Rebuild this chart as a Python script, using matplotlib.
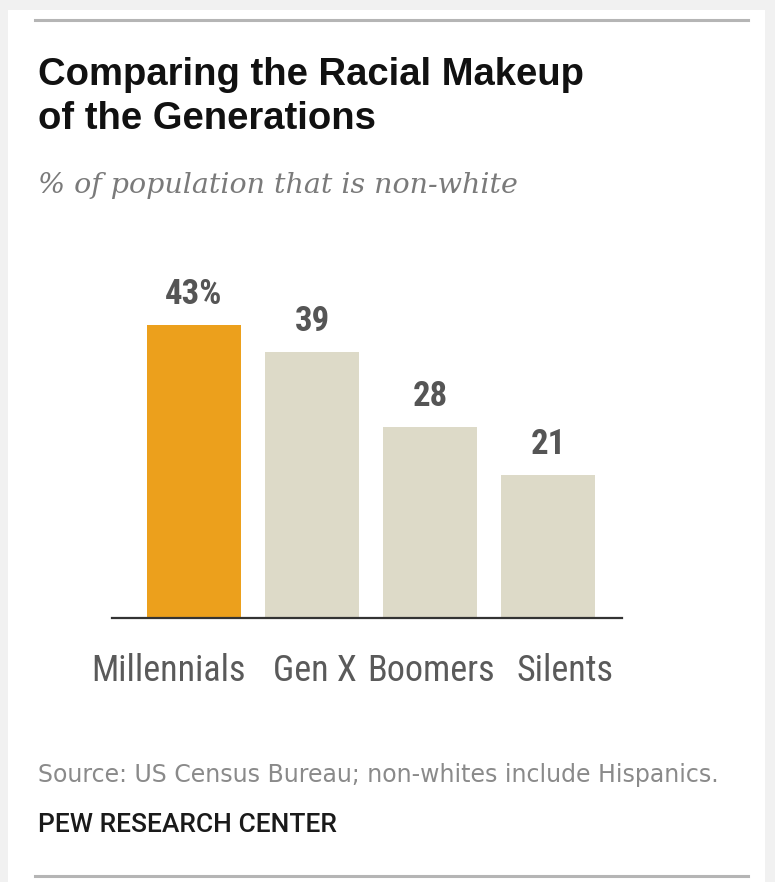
import matplotlib
matplotlib.use("Agg")
import matplotlib.pyplot as plt
from matplotlib import font_manager
from matplotlib.patches import Rectangle
from matplotlib.lines import Line2D
from matplotlib.transforms import ScaledTranslation

# ---- data ----
categories = ["Millennials", "Gen X", "Boomers", "Silents"]
values = [43, 39, 28, 21]
value_labels = ["43%", "39", "28", "21"]
bar_colors = ["#ECA01C", "#DDDAC8", "#DDDAC8", "#DDDAC8"]

title_lines = ["Comparing the Racial Makeup", "of the Generations"]
subtitle = "% of population that is non-white"
source = "Source: US Census Bureau; non-whites include Hispanics."
credit = "PEW RESEARCH CENTER"


def pick(names):
    for n in names:
        try:
            font_manager.findfont(font_manager.FontProperties(family=n), fallback_to_default=False)
            return n
        except Exception:
            continue
    return "DejaVu Sans"


narrow = pick(["Roboto Condensed", "Liberation Sans Narrow", "DejaVu Sans Condensed", "Liberation Sans"])
serif = pick(["DejaVu Serif", "Liberation Serif"])
boldsans = pick(["Liberation Sans", "Arial", "DejaVu Sans"])
roboto = pick(["Roboto", "Liberation Sans"])

W, H = 775, 882
fig = plt.figure(figsize=(W / 100, H / 100), dpi=100, facecolor="#f1f1f1")


def fy(px):
    return 1 - px / H


# white card
fig.add_artist(Rectangle((8 / W, 0), (765 - 8) / W, (H - 10) / H, transform=fig.transFigure,
                         facecolor="white", edgecolor="none", zorder=0))
# top and bottom rules
for yy in (20, 876):
    fig.add_artist(Line2D([35 / W, 748 / W], [fy(yy), fy(yy)], transform=fig.transFigure,
                          color="#b5b5b5", lw=2.2))

# texts
for line, base in zip(title_lines, (85, 129)):
    fig.text(38 / W, fy(base), line, family=boldsans, weight="bold", fontsize=27.5,
             color="#111111", va="baseline", ha="left")
fig.text(38 / W, fy(193), subtitle, family=serif, style="italic", fontsize=20.5, color="#7a7a7a",
         va="baseline", ha="left")
fig.text(38 / W, fy(782), source, family="DejaVu Sans", fontsize=17, color="#8a8a8a",
         va="baseline", ha="left")
fig.text(38 / W, fy(832), credit, family=roboto, weight="medium", fontsize=19, color="#1a1a1a",
         va="baseline", ha="left")

# axes
ax_left, ax_right = 112, 622
ax_bottom, ax_top = 618, 250
ax = fig.add_axes([ax_left / W, fy(ax_bottom), (ax_right - ax_left) / W, (ax_bottom - ax_top) / H])
ax.set_facecolor("none")
x = list(range(len(categories)))
ax.bar(x, values, width=0.8, color=bar_colors, zorder=2)
ax.set_xlim(-0.695, 3.627)
ax.set_ylim(0, 54)
for s in ["top", "right", "left"]:
    ax.spines[s].set_visible(False)
ax.spines["bottom"].set_color("#333333")
ax.spines["bottom"].set_linewidth(1.6)
ax.spines["bottom"].set_zorder(3)
ax.set_yticks([])
ax.set_xticks(x)
ax.set_xticklabels(categories, family=narrow, fontsize=26, color="#5a5a5a")
ax.tick_params(axis="x", length=0, pad=25)

# small horizontal nudges of category labels (pixels)
label_shift = [-26, 3, 1, 17]
for lab, dx in zip(ax.get_xticklabels(), label_shift):
    lab.set_transform(lab.get_transform() + ScaledTranslation(dx / 100, 0, fig.dpi_scale_trans))

for xi, v, lab in zip(x, values, value_labels):
    ax.annotate(lab, (xi, v), xytext=(0, 15), textcoords="offset points", ha="center", va="baseline",
                family=narrow, weight="bold", fontsize=25, color="#555555")

fig.savefig("out.png", dpi=100, facecolor=fig.get_facecolor())
